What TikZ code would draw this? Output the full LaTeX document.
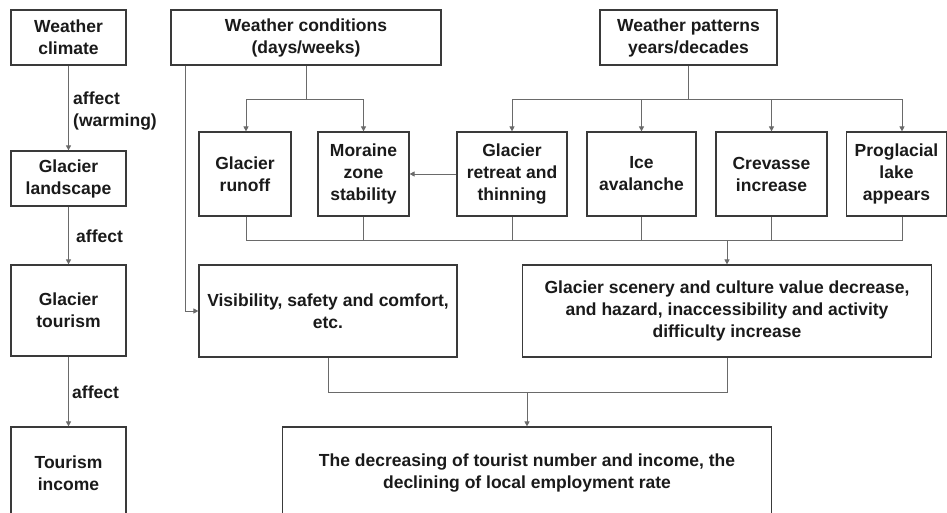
\documentclass[tikz,border=0pt]{standalone}
\usepackage{fontspec}
\setmainfont{Liberation Sans}
\usetikzlibrary{arrows.meta,calc}
\definecolor{boxline}{HTML}{3A3A3A}
\definecolor{conn}{HTML}{6A6A6A}
\definecolor{txtc}{HTML}{1A1A1A}
\begin{document}
\begin{tikzpicture}[x=1pt,y=-1pt,
  box/.style={draw=boxline,line width=1.2pt,fill=white,rectangle,align=center,inner sep=2pt,
    font=\fontsize{17.5}{22}\selectfont\bfseries,text=txtc},
  lbl/.style={align=left,anchor=west,inner sep=0pt,font=\fontsize{17.5}{22}\selectfont\bfseries,text=txtc},
  conline/.style={draw=conn,line width=0.9pt},
  arr/.style={conline,-{Triangle[length=5pt,width=5pt]}}]
\useasboundingbox (0,0) rectangle (947,513);
\clip (0,0) rectangle (947,513);
\fill[white] (0,0) rectangle (947,513);
% left column
\node[box,minimum width=115,minimum height=55] (clim) at (68.5,37.5) {Weather\\climate};
\node[box,minimum width=115,minimum height=55] (land) at (68.5,178.5) {Glacier\\landscape};
\node[box,minimum width=115,minimum height=91] (tour) at (68.5,310.5) {Glacier\\tourism};
\node[box,minimum width=115,minimum height=92] (inc) at (68.5,473) {Tourism\\income};
\draw[arr] (clim.south) -- (land.north);
\draw[arr] (land.south) -- (tour.north);
\draw[arr] (tour.south) -- (inc.north);
\node[lbl] (l1) at (73,111) {affect\\(warming)};
\node[lbl] (l2) at (76,236) {affect};
\node[lbl] (l3) at (72,392) {affect};
% top
\node[box,minimum width=270,minimum height=55] (cond) at (306,37.5) {Weather conditions\\(days/weeks)};
\node[box,minimum width=177,minimum height=55] (patt) at (688.5,37.5) {Weather patterns\\years/decades};
% row 2
\node[box,minimum width=92,minimum height=84] (runoff) at (245,174) {Glacier\\runoff};
\node[box,minimum width=91,minimum height=84] (moraine) at (363.5,174) {Moraine\\zone\\stability};
\node[box,minimum width=110,minimum height=84] (retreat) at (512,174) {Glacier\\retreat and\\thinning};
\node[box,minimum width=109,minimum height=84] (ice) at (641.5,174) {Ice\\avalanche};
\node[box,minimum width=111,minimum height=84] (crev) at (771.5,174) {Crevasse\\increase};
\node[box,minimum width=100,minimum height=84] (pro) at (896.5,174) {Proglacial\\lake\\appears};
% row 3
\node[box,minimum width=258,minimum height=92] (vis) at (328,311) {Visibility, safety and comfort,\\etc.};
\node[box,minimum width=409,minimum height=92] (scen) at (727,311) {Glacier scenery and culture value decrease,\\and hazard, inaccessibility and activity\\difficulty increase};
\node[box,minimum width=489,minimum height=92] (fin) at (527,473) {The decreasing of tourist number and income, the\\declining of local employment rate};
% connectors from conditions
\coordinate (cj) at (306,99);
\draw[conline] (cond.south) -- (cj);
\draw[arr] (cj) -| ([xshift=1pt]runoff.north);
\draw[arr] (cj) -| (moraine.north);
\draw[arr] ([xshift=-121pt]cond.south) |- (vis.west);
% connectors from patterns
\coordinate (pj) at (688.5,99);
\draw[conline] (patt.south) -- (pj);
\draw[arr] (pj) -| (retreat.north);
\draw[arr] (pj) -| (ice.north);
\draw[arr] (pj) -| (crev.north);
\draw[arr] (pj) -| ([xshift=5.5pt]pro.north);
\draw[arr] (retreat.west) -- (moraine.east);
% row 2 merge
\coordinate (rj) at (727,240);
\draw[conline] ([xshift=1pt]runoff.south) |- (rj);
\draw[conline] (moraine.south) |- (rj);
\draw[conline] (retreat.south) |- (rj);
\draw[conline] (ice.south) |- (rj);
\draw[conline] (crev.south) |- (rj);
\draw[conline] ([xshift=5.5pt]pro.south) |- (rj);
\draw[arr] (rj) -- (scen.north);
% row 3 merge
\coordinate (bj) at (527,392);
\draw[conline] (vis.south) |- (bj);
\draw[conline] (scen.south) |- (bj);
\draw[arr] (bj) -- (fin.north);
\end{tikzpicture}
\end{document}
